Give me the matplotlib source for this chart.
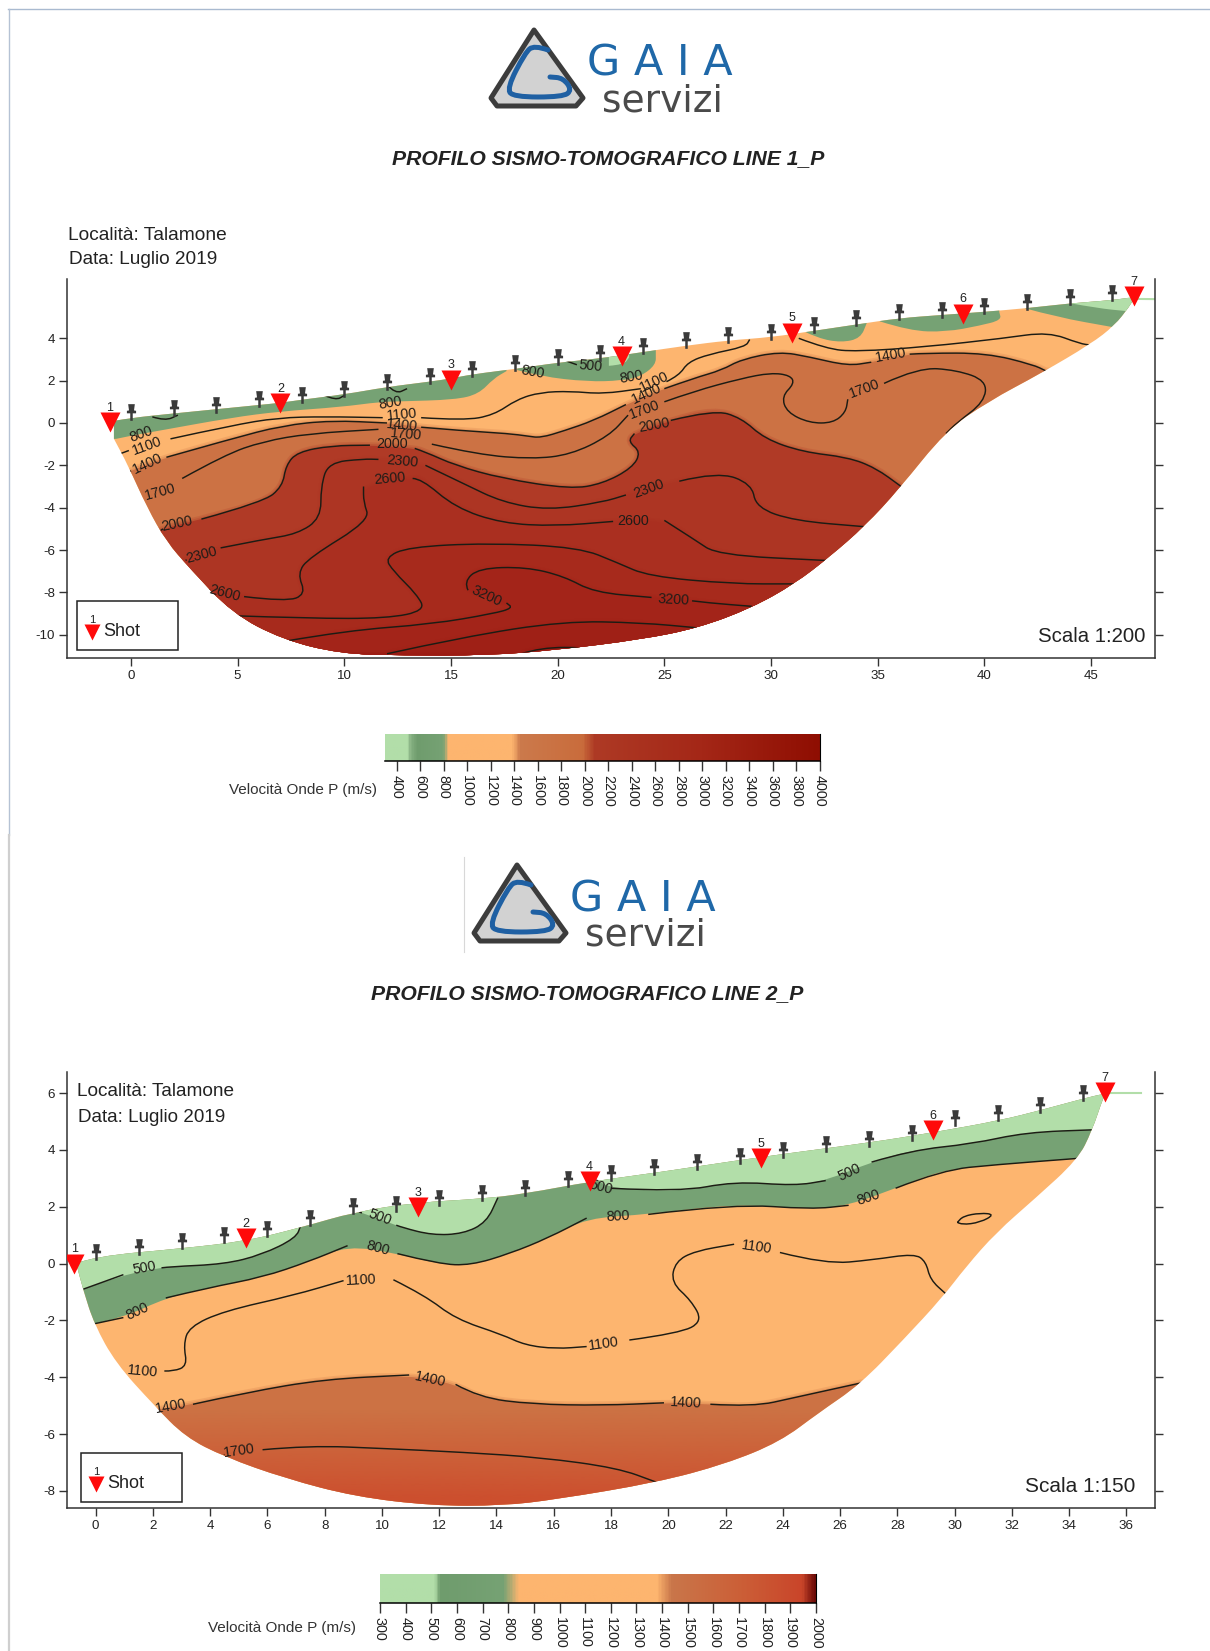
import numpy as np
import matplotlib
matplotlib.use("Agg")
import matplotlib.pyplot as plt
from matplotlib.path import Path
from matplotlib.patches import PathPatch, Polygon, Rectangle
from matplotlib.colors import LinearSegmentedColormap, Normalize, to_rgb

plt.rcParams['font.family'] = ['Liberation Sans', 'DejaVu Sans']
plt.rcParams['axes.unicode_minus'] = False

W, H = 1210, 1651

LIGHT = '#b2dea9'
GREEN = '#76a274'
ORANGE = '#fdb56f'
BROWN = '#cc7244'

# ---------- line 1 ----------
p1_top = [(-.8,.1),(0,.24),(2,.45),(4,.65),(6,.85),(7,.95),(8,1.1),(10,1.35),(12,1.7),(14,1.95),(15,2.1),(16,2.3),
          (18,2.55),(20,2.85),(22,3.05),(24,3.35),(26,3.65),(28,3.9),(30,4.05),(32,4.35),(34,4.65),(36,4.95),
          (38,5.1),(40,5.25),(42,5.42),(44,5.65),(46,5.8),(47,5.95)]
p1_bottom = [(47,5.86),(46.8,5.5),(46.1,4.6),(45,3.74),(42.7,2.37),(40.15,1),(38.2,-.37),(36,-3.12),(34.4,-4.87),
             (32.7,-6.36),(31.1,-7.6),(29.1,-8.73),(26.6,-9.68),(23.9,-10.23),(19.9,-10.73),(16.66,-10.98),
             (12.7,-10.98),(9.8,-10.9),(7.1,-10.23),(4.73,-8.98),(2.75,-6.86),(1.66,-5.6),(.76,-4),(-.14,-2),(-.8,-.75)]

p1_green = [
    ([(-.7,-.75),(.0,-.6)], [(1.4,-.35),(4.7,.25),(7,.55),(9.8,.75),(11.7,1)], [(12.6,1.02),(15.2,1.1),(16.3,1.37),(17,2.1),(17.6,2.45)]),
    ([(18.1,2.5),(19.2,2.2),(21.4,1.95),(23,2.0)], [(23.9,2.2),(24.6,2.75),(24.6,3.3)]),
    ([(31.5,4.35),(32.2,4.0),(33.3,3.8),(34.2,4.0),(34.5,4.75)],),
    ([(35.1,4.8),(36.5,4.35),(38.2,4.3),(39.8,4.6),(40.8,4.86),(40.7,5.24)],),
    ([(41.9,5.42),(43.4,5.0),(46,4.53)],),
]
p1_light = [
    ([(22.4,2.7),(23.1,2.75),(23.35,3.1)],),
    ([(44,5.66),(45.3,5.42),(46.7,5.28)],),
]
p1_c1100a = [[(-.5,-1.45),(-.1,-1.3)], [(1.85,-.75),(4.7,-.12),(6.9,.25),(9.1,.3),(11.8,.25)],
             [(13.6,.25),(15.6,.12),(17,.37),(18.1,1.12),(19.2,1.45),(20.6,1.5),(22.1,1.37),(23.9,1.62)],
             [(25.1,1.95),(25.7,2.25),(26.1,2.87),(27.1,3.25),(28.8,3.6),(29,3.94)]]
p1_c1100b = [[(31.3,4),(32.6,3.5),(34,3.37),(37.3,3.6),(40.9,4),(43,4.3),(44.5,3.74),(45,3.68)]]
p1_c1400 = [[(-.05,-2.3),(0,-2.25)], [(1.66,-1.62),(4.7,-.75),(7.1,-.12),(9.4,.12),(12,0)],
            [(13.6,-.2),(15.6,-.37),(17.7,-.5),(18.6,-.62),(19.2,-.7),(20.3,-.37),(21.7,.12),(23.2,.87)],
            [(25,1.62),(26.4,2.12),(27.7,2.5),(28.6,3.0),(30.4,3.37),(31.8,3.12),(33.6,2.7),(34.7,2.87)],
            [(36.5,3.25),(37.3,3.3),(40.1,3.3),(42.3,2.75),(42.9,2.45)]]
p1_c1700 = [[(2.4,-2.62),(4.4,-1.5),(6.2,-.87),(8.35,-.5),(11.6,-.3)],
            [(14.1,-1),(16.3,-1.5),(18.8,-1.7),(20.6,-1.5),(22.4,-.62),(23.3,.37)],
            [(25,1),(26.4,1.5),(28.6,2.1),(30,2.37),(30.9,2.25),(31.1,1.87),(30.5,1.25),(30.75,.5),(31.8,0),(32.9,0),
             (33.5,.5),(33.6,1.12)],
            [(35.3,1.87),(36.9,2.62),(38.7,2.5),(40.1,2),(40,1),(38.7,0),(38.2,-.5)]]
p1_c2000 = [[(1.4,-5.07),(1.5,-5.0)], [(3.3,-4.54),(6.2,-3.74),(7.1,-3),(7.26,-2),(7.8,-1.37),(9.4,-1.07),(11.2,-1.05)],
            [(13.3,-1.2),(13.8,-1.37),(15.2,-2),(17.4,-2.62),(20.6,-3.12),(22.1,-2.87),(23.5,-2.12),(23.9,-1.37),(23.3,-.87),(23.6,-.5)],
            [(25.3,.12),(27.3,.62),(28.6,.25),(29.7,-.75),(31.5,-1.37),(33.6,-1.62),(34.9,-2.12),(36.1,-3)]]
p1_c2300 = [[(2.57,-6.5),(2.6,-6.45)], [(4.2,-5.9),(6.2,-5.5),(7.8,-5.24),(8.9,-4.5),(8.9,-3),(9.25,-1.87),(10.9,-1.7),(11.6,-1.72)],
            [(13.8,-2),(15.6,-2.87),(17.4,-3.74),(19.55,-4.12),(22.1,-3.74),(23.2,-3.4)],
            [(25.7,-2.75),(27.5,-2.3),(29.1,-2.87),(29.3,-4),(31.1,-4.62),(34.4,-4.9)]]
p1_c2600 = [[(3.65,-7.86),(3.7,-7.9)], [(5.3,-8.2),(7.26,-8.44),(8.2,-8.1),(7.8,-7.1),(8.35,-6.36),(11.2,-4.6),(10.9,-3.74),(10.9,-3)],
            [(13.2,-2.62),(13.6,-2.62),(15.2,-4),(17.4,-4.74),(19.9,-4.87),(22.6,-4.65)],
            [(25,-4.6),(26.4,-5.5),(27.5,-6.24),(32.7,-6.5)]]
p1_c2900 = [[(4.7,-9.1),(8.35,-9.23),(12,-9.23),(13.8,-8.86),(13.4,-8.1),(12.3,-7),(11.9,-6.36),(13,-5.86),(16.7,-5.67),
             (21,-5.87),(22.8,-6.6),(24.25,-7.24),(28.2,-7.6),(31.1,-7.6)]]
p1_c3200 = [[(7.26,-10.3),(10.15,-9.8),(14.1,-9.5),(17,-9),(17.9,-8.74),(17.6,-8.5)],
            [(15.8,-7.9),(15.6,-7.5),(16.3,-6.86),(18.5,-6.8),(20.3,-7.24),(21.7,-8),(24.4,-8.24)],
            [(26.3,-8.4),(27.1,-8.5),(29.1,-8.66)]]
p1_c3500 = [[(12,-10.9),(15.6,-10.1),(20.3,-9.36),(23.9,-9.43),(26.6,-9.68)]]
p1_c3800 = [[(18.3,-10.9),(19.2,-10.6),(21.4,-10.6),(22.4,-10.85)]]
p1_arcs = [[(1,.29),(1.6,.1),(2.2,.37)], [(9.07,1.3),(9.6,1.07),(10,1.3)], [(12,1.8),(12.4,1.37),(12.94,1.62)],
           [(20.2,3.0),(20.9,2.75)]]
p1_deep = [(p1_c1400,BROWN), (p1_c2000,'#b03a26'), (p1_c2300,'#ad3523'), (p1_c2600,'#aa2f20'),
           (p1_c2900,'#a72a1c'), (p1_c3200,'#a32419'), (p1_c3500,'#9f2016'), (p1_c3800,'#9b1b13')]
p1_lines = [p1_c1100a,p1_c1100b,p1_c1400,p1_c1700,p1_c2000,p1_c2300,p1_c2600,p1_c2900,p1_c3200,p1_c3500,p1_c3800]

p1_labels = ['800','1100','1400','1700','2000','2300','2600','800','1100','1400','1700','2000','2300','2600','800','500',
             '800','1100','1400','1700','2000','2300','2600','3200','3200','1400','1700']
p1_label_x = [.47,.76,.76,1.37,2.13,3.3,4.37,12.14,12.7,12.7,12.87,12.25,12.7,12.14,18.83,21.54,23.45,24.54,24.18,24.07,
              24.54,24.25,23.53,16.66,25.44,35.63,34.37]
p1_label_y = [-.55,-1.07,-1.92,-3.24,-4.74,-6.24,-8.04,.95,.37,-.12,-.55,-1,-1.82,-2.62,2.42,2.7,2.17,1.95,1.37,.62,-.12,
              -3.12,-4.62,-8.19,-8.36,3.2,1.62]
p1_label_rot = [20,20,25,15,12,15,-15,10,5,-5,-5,0,-5,5,-10,-5,10,25,25,20,10,20,0,-25,-3,10,20]

p1_geo_x = [0,2,4,6,8,10,12,14,16,18,20,22,24,26,28,30,32,34,36,38,40,42,44,46]
p1_geo_y = [.5,.7,.87,1.12,1.3,1.6,1.95,2.2,2.55,2.82,3.12,3.32,3.62,3.92,4.17,4.32,4.64,4.97,5.24,5.34,5.54,5.72,5.94,6.16]
p1_shot_x = [-1,7,15,23,31,39,47]
p1_shot_y = [.05,.95,2.05,3.17,4.27,5.17,5.99]

# ---------- line 2 ----------
p2_top = [(-.73,0),(0,.26),(3,.53),(5.3,.8),(7.17,1.27),(9.06,1.82),(11.2,2.15),(13.5,2.28),(15,2.46),(17.3,2.89),
          (19.6,3.2),(23.2,3.75),(27,4.25),(29.3,4.62),(31.6,5.04),(33.06,5.41),(34.4,5.78),(35.3,6)]
p2_bottom = [(35.2,5.87),(34.8,4.67),(34.3,3.66),(32.8,2.28),(31.45,1.09),(30.4,-.11),(29.56,-1.21),(28.2,-2.69),
             (26.7,-4.25),(25.24,-5.26),(23.9,-6.27),(22,-7.05),(19.6,-7.7),(16.07,-8.3),(14.2,-8.52),(11.76,-8.52),
             (9.06,-8.2),(6.63,-7.56),(4.5,-6.8),(3.13,-6.1),(2.05,-5),(.7,-3.5),(-.05,-2.13),(-.43,-.94),(-.65,-.1)]

p2_c500a = [[(-.43,-.9),(.97,-.39)], [(2.3,-.15),(2.6,-.11),(4.5,-.02),(5.8,.31),(7,.9),(7.17,1.36)]]
p2_c500b = [[(9.2,1.82),(9.3,1.78)], [(10.5,1.35),(10.7,1.27),(11.76,1),(12.84,1.05),(13.65,1.45),(14.05,2.32)]]
p2_c500c = [[(17.5,2.95),(17.52,2.93)], [(18,2.65),(20.4,2.52),(22.3,2.89),(24.43,2.74),(25.5,2.92)],
            [(27.1,3.57),(28.5,3.99),(30.6,4.21),(32.5,4.62),(34.95,4.71)]]
p2_c800 = [[(-.1,-2.13),(.97,-1.9)], [(2.45,-1.21),(3.94,-.85),(5.83,-.48),(7.44,.07),(8.8,.63)],
           [(10.54,.35),(12,-.02),(13.1,-.06),(14.46,.35),(15.8,.9),(17.15,1.6)],
           [(19.3,1.73),(22.3,2.1),(25,1.91),(26.3,2.05)], [(27.94,2.65),(29.56,3.29),(31.45,3.48),(34.3,3.7)]]
p2_c1100a = [[(.7,-3.73),(.9,-3.74)], [(2.4,-3.78),(2.72,-3.79),(3.2,-3.6),(3.07,-2.87),(3.26,-2.23),(4.48,-1.67),(6.9,-1.12),(8.66,-.6)],
             [(10.4,-.57),(11.5,-1.12),(12.57,-1.95),(14.2,-2.5),(15,-2.87),(16.07,-3),(17.15,-2.92)],
             [(18.64,-2.69),(20.4,-2.45),(21.2,-2.04),(20.8,-1.3),(20.1,-.66),(20.25,.07),(20.93,.44),(22.3,.68)],
             [(23.9,.39),(25.5,-.02),(27.13,.13),(28.6,.35),(29,.07),(29.15,-.57),(29.7,-1.07)]]
p2_loop = [[(30.1,1.45),(30.24,1.36),(30.9,1.45),(31.4,1.73),(30.9,1.78),(30.3,1.67),(30.1,1.45)]]
p2_c1400 = [[(2.05,-5.17),(2.1,-5.15)], [(3.4,-4.95),(5.29,-4.53),(7.98,-4.07),(10.95,-3.92)],
            [(12.57,-4.25),(13.38,-4.71),(15.26,-4.95),(17.7,-4.99),(19.85,-4.9)],
            [(21.47,-4.95),(22.95,-5.04),(24.43,-4.71),(26.73,-4.2)]]
p2_c1700 = [[(4.48,-6.73),(4.5,-6.72)], [(5.83,-6.55),(7.44,-6.4),(10.14,-6.51),(12.84,-6.64),(15.53,-6.82),(18.23,-7.19),(19.58,-7.69)]]
p2_deep = [(p2_c1400,BROWN)]
p2_lines = [p2_c500a,p2_c500b,p2_c500c,p2_c800,p2_c1100a,p2_loop,p2_c1400,p2_c1700]

p2_labels = ['500','800','1100','1400','1700','500','800','1100','1400','800','500','1100','1100','1400','500','800']
p2_label_x = [1.7,1.46,1.65,2.64,5.02,9.92,9.87,9.28,11.68,18.23,17.64,17.75,23.09,20.6,26.32,27]
p2_label_y = [-.17,-1.67,-3.79,-5.02,-6.59,1.64,.53,-.57,-4.07,1.67,2.69,-2.81,.57,-4.89,3.2,2.32]
p2_label_rot = [10,25,-5,10,8,-20,-15,3,-12,3,-15,8,-8,-3,25,18]

p2_geo_x = [0,1.5,3,4.5,6,7.5,9,10.5,12,13.5,15,16.5,18,19.5,21,22.5,24,25.5,27,28.5,30,31.5,33,34.5]
p2_geo_y = [.4,.59,.79,.99,1.2,1.62,2.01,2.08,2.32,2.48,2.67,2.96,3.2,3.38,3.58,3.78,3.99,4.21,4.4,4.6,5.11,5.3,5.59,6.0]
p2_shot_x = [-.75,5.25,11.25,17.25,23.25,29.25,35.25]
p2_shot_y = [0,.9,2,2.89,3.7,4.71,6.02]

# ---------- colour scales ----------
cb1_values = [300,480,500,560,790,830,1380,1440,1980,2080,3000,4000]
cb1_colors = [LIGHT,LIGHT,'#8fb98a','#6f9c6d','#76a274',ORANGE,ORANGE,'#cc7a4c','#c96c3c','#ae3a25','#a42717','#8f0e02']
cb1_ticks = list(range(400,4001,200))
cb2_values = [300,510,530,780,840,1380,1440,1700,1950,2000]
cb2_colors = [LIGHT,LIGHT,'#6f9c6d','#76a274',ORANGE,ORANGE,'#c9764a','#cc6038','#c9452a','#6e0c08']
cb2_ticks = list(range(300,2001,100))


def px_axes(fig, left, top, right, bottom):
    return fig.add_axes([left/W, 1-bottom/H, (right-left)/W, (bottom-top)/H])


def curve_parts(segments):
    pts = np.array([p for s in segments for p in s], dtype=float)
    verts, codes = [pts[0]], [Path.MOVETO]
    for i in range(1, len(pts)-1):
        verts += [pts[i], (pts[i]+pts[i+1])/2]
        codes += [Path.CURVE3, Path.CURVE3]
    verts.append(pts[-1])
    codes.append(Path.LINETO)
    return verts, codes


def line_path(seg):
    v, c = curve_parts([seg])
    return Path(v, c)


def region(segments, extra):
    v, c = curve_parts(segments)
    v = v + [np.array(e, dtype=float) for e in extra] + [v[0]]
    c = c + [Path.LINETO]*len(extra) + [Path.CLOSEPOLY]
    return Path(v, c)


def draw_profile(ax, top, bottom, green, light, deep, lines, arcs, labels, lx, ly, lrot, gx, gy, sx, sy, xlim, ylim, xticks, yticks, right_from):
    ax.set_xlim(*xlim)
    ax.set_ylim(*ylim)
    shape = PathPatch(region([top+bottom], []), fc=ORANGE, ec='none', zorder=1)
    ax.add_patch(shape)
    for segs, color in deep:
        first = segs[0][0]
        last = segs[-1][-1]
        p = region(segs, [(60, last[1]), (60, -30), (-10, -30), (-10, first[1])])
        # soft rim on the band edge, the velocity colours fade into each other
        for lw, alpha in ((5, .22), (2.5, .3)):
            rim = PathPatch(p, fc='none', ec=color, lw=lw, alpha=alpha, zorder=2)
            ax.add_patch(rim)
            rim.set_clip_path(shape)
        pp = PathPatch(p, fc=color, ec='none', zorder=2)
        ax.add_patch(pp)
        pp.set_clip_path(shape)
    for patches, color, z in ((green, GREEN, 3), (light, LIGHT, 4)):
        for segs in patches:
            first = segs[0][0]
            last = segs[-1][-1]
            left = first[0] - (4 if first[0] < 0 else 0)
            if last[0] > right_from:
                p = region(segs, [(60, last[1]), (60, 10), (left, 10), (left, first[1])])
            else:
                p = region(segs, [(last[0], 10), (left, 10), (left, first[1])])
            pp = PathPatch(p, fc=color, ec='none', zorder=z)
            ax.add_patch(pp)
            pp.set_clip_path(shape)
    for seg in [s for c in lines for s in c] + arcs:
        ln = PathPatch(line_path(seg), fc='none', ec='#1c1c14', lw=1.05, zorder=5)
        ax.add_patch(ln)
        ln.set_clip_path(shape)
    for t, x, y, r in zip(labels, lx, ly, lrot):
        ax.text(x, y, t, fontsize=10.3, rotation=r, rotation_mode='anchor', ha='center', va='center', color='#201c18', zorder=6)
    pin = Path([(-.15,-1),(-.15,-.1),(-.55,-.1),(-.55,.2),(-.3,.25),(-.4,1),(.4,1),(.3,.25),(.55,.2),(.55,-.1),(.15,-.1),(.15,-1),(-.15,-1)])
    ax.plot(gx, gy, ls='none', marker=pin, ms=12, mfc='#3a3a3a', mec='none', zorder=7)
    ax.plot(sx, sy, ls='none', marker='v', ms=15, mfc='#ff0a0a', mec='none', zorder=8)
    for i, (x, y) in enumerate(zip(sx, sy)):
        ax.annotate(str(i+1), (x, y), xytext=(0, 8), textcoords='offset points', ha='center', fontsize=9, color='#222')
    for s in ('left', 'bottom', 'right'):
        ax.spines[s].set_linewidth(1.1)
        ax.spines[s].set_color('#333333')
    ax.spines['top'].set_visible(False)
    ax.set_xticks(xticks)
    ax.set_yticks(yticks)
    ax.tick_params(axis='both', length=5.5, width=1, color='#333333', labelsize=9.6, labelcolor='#222222', pad=3)
    ax.tick_params(axis='y', right=True)
    return shape


def draw_bar(fig, page, left, top, right, bottom, values, colors, ticks, label, label_x, label_y):
    ax = px_axes(fig, left, top, right, bottom)
    vmin, vmax = values[0], values[-1]
    pos = [(v-vmin)/(vmax-vmin) for v in values]
    cmap = LinearSegmentedColormap.from_list('bar', list(zip(pos, colors)))
    ax.imshow(np.linspace(vmin, vmax, 400).reshape(1, -1), aspect='auto', cmap=cmap, norm=Normalize(vmin, vmax),
              extent=(vmin, vmax, 0, 1))
    ax.set_xticks(ticks)
    ax.set_xticklabels([str(t) for t in ticks], rotation=270, ha='center', va='top', fontsize=10.4, color='#222')
    ax.set_yticks([])
    ax.tick_params(axis='x', length=7, width=1, color='#333', pad=3)
    for s in ('left', 'top'):
        ax.spines[s].set_visible(False)
    ax.spines['bottom'].set_linewidth(1.1)
    ax.spines['right'].set_linewidth(.8)
    page.text(label_x, label_y, label, ha='right', va='center', fontsize=11, color='#333')


def draw_logo(page, dx, dy):
    tri = [(534,30),(583,98),(576,106),(497,106),(491,98)]
    tri = [(x+dx, y+dy) for x, y in tri]
    page.add_patch(Polygon(tri, closed=True, fc='#d2d2d2', ec='#3c3c3c', lw=3.6, joinstyle='round', zorder=2))
    g = [(548+dx,50+dy),(534+dx,45+dy),(525+dx,53+dy),(507+dx,88+dy),(513+dx,97+dy),(563+dx,97+dy),(572+dx,90+dy),
         (563+dx,78+dy),(550+dx,77+dy)]
    page.add_patch(PathPatch(line_path(g), fc='none', ec='#1f60a3', lw=3.6, capstyle='round', zorder=3))
    page.text(660+dx, 64+dy, 'G A I A', color='#1f68a8', fontsize=31, family='DejaVu Sans', ha='center', va='center', zorder=3)
    page.text(662+dx, 101+dy, 'servizi', color='#4a4a4a', fontsize=27, family='DejaVu Sans', ha='center', va='center', zorder=3)


def draw_legend(page, x0, y0):
    page.add_patch(Rectangle((x0, y0), 101, 49, fc='white', ec='#222', lw=1.1, zorder=5))
    page.plot([x0+15], [y0+31], marker='v', ms=11, mfc='#ff0a0a', mec='none', zorder=6)
    page.text(x0+15, y0+19, '1', fontsize=8, ha='center', va='center', color='#222', zorder=6)
    page.text(x0+26, y0+30, 'Shot', fontsize=13, ha='left', va='center', color='#222', zorder=6)


fig = plt.figure(figsize=(W/100, H/100), dpi=100, facecolor='white')

ax1 = px_axes(fig, 67, 279, 1155, 658)
draw_profile(ax1, p1_top, p1_bottom, p1_green, p1_light, p1_deep, p1_lines, p1_arcs, p1_labels, p1_label_x, p1_label_y,
             p1_label_rot, p1_geo_x, p1_geo_y, p1_shot_x, p1_shot_y, (-3, 48), (-11.1, 6.8), range(0, 46, 5), range(-10, 5, 2), 45)
ax1.plot([47, 48], [5.86, 5.85], color=LIGHT, lw=1.5, zorder=1)

ax2 = px_axes(fig, 67, 1072, 1155, 1508)
shape2 = draw_profile(ax2, p2_top, p2_bottom, [p2_c800], [p2_c500a, p2_c500b, p2_c500c], p2_deep, p2_lines, [], p2_labels, p2_label_x, p2_label_y,
                      p2_label_rot, p2_geo_x, p2_geo_y, p2_shot_x, p2_shot_y, (-1, 37), (-8.6, 6.74), range(0, 37, 2), range(-8, 7, 2), 34)
ax2.plot([35.3, 36.5], [6, 6], color=LIGHT, lw=1.5, zorder=1)
# the brown gets redder with depth on this line
fade = np.ones((120, 1, 4))
fade[:, :, :3] = to_rgb('#cc4f2e')
fade[:, 0, 3] = np.clip(np.linspace(-.05, 1.1, 120), 0, 1)
im = ax2.imshow(fade, aspect='auto', extent=(-1, 37, -8.6, -5), zorder=2.5)
im.set_clip_path(shape2)
ax2.set_xlim(-1, 37)
ax2.set_ylim(-8.6, 6.74)

page = fig.add_axes([0, 0, 1, 1], facecolor='none', zorder=10)
page.set_xlim(0, W)
page.set_ylim(H, 0)
page.axis('off')

page.plot([8, W], [9, 9], color='#a9bad0', lw=1)
page.plot([8.5, 8.5], [9, 835], color='#b5c2d4', lw=1)
page.plot([8.5, 8.5], [835, H], color='#cfcfcf', lw=1.6)

draw_logo(page, 0, 0)
draw_logo(page, -17, 835)
page.plot([464, 464], [857, 952], color='#d8d8d8', lw=.8)

page.text(608, 159, 'PROFILO SISMO-TOMOGRAFICO LINE 1_P', fontsize=15.2, fontweight='bold', fontstyle='italic', ha='center', va='center', color='#222')
page.text(587, 994, 'PROFILO SISMO-TOMOGRAFICO LINE 2_P', fontsize=15.2, fontweight='bold', fontstyle='italic', ha='center', va='center', color='#222')

page.text(68, 235, 'Località: Talamone', fontsize=13.8, ha='left', va='center', color='#222')
page.text(69, 260, 'Data: Luglio 2019', fontsize=13.7, ha='left', va='center', color='#222')
page.text(77, 1091, 'Località: Talamone', fontsize=13.7, ha='left', va='center', color='#222')
page.text(78, 1117, 'Data: Luglio 2019', fontsize=13.6, ha='left', va='center', color='#222')
page.text(1145, 637, 'Scala 1:200', fontsize=14.7, ha='right', va='center', color='#222')
page.text(1135, 1486, 'Scala 1:150', fontsize=15, ha='right', va='center', color='#222')

draw_legend(page, 77, 601)
draw_legend(page, 81, 1453)

draw_bar(fig, page, 385, 734, 820, 761, cb1_values, cb1_colors, cb1_ticks, 'Velocità Onde P (m/s)', 377, 790)
draw_bar(fig, page, 380, 1574, 816, 1603, cb2_values, cb2_colors, cb2_ticks, 'Velocità Onde P (m/s)', 356, 1628)

fig.savefig('out.png', dpi=100)
